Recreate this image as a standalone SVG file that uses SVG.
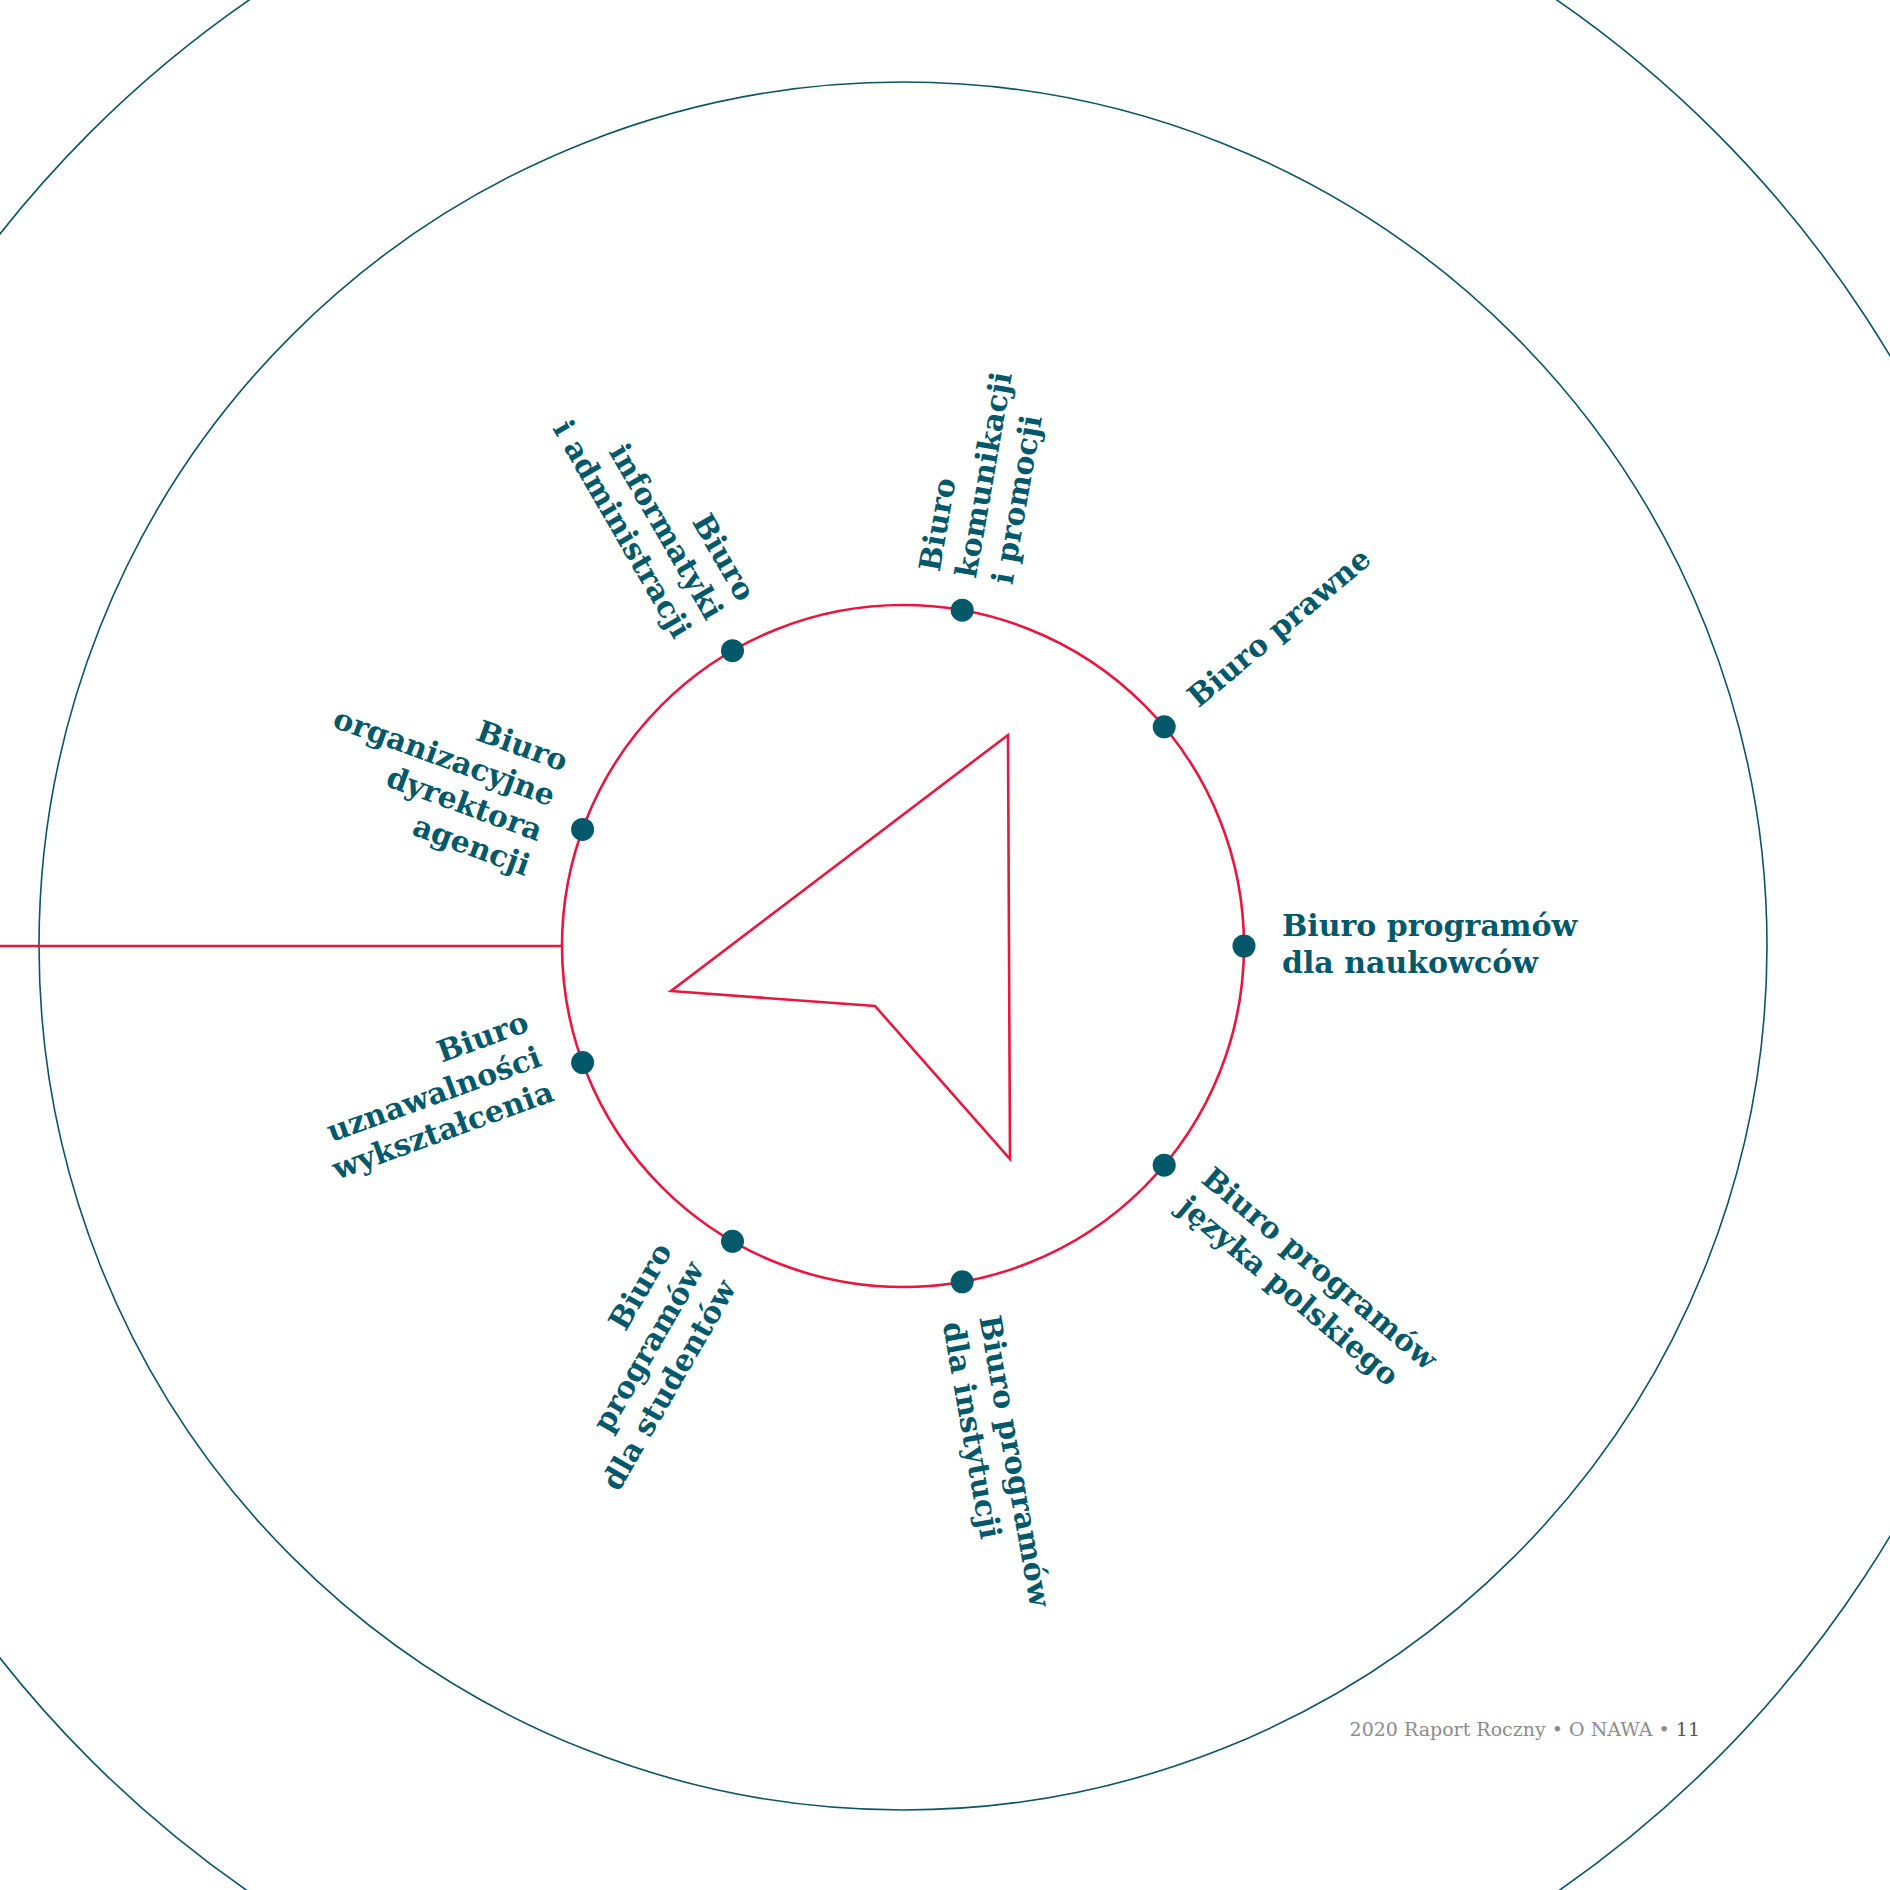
<svg xmlns="http://www.w3.org/2000/svg" width="1890" height="1890" viewBox="0 0 1890 1890">
<style>
.ring{fill:none;stroke:#0b5564;stroke-width:1.6}
.red{fill:none;stroke:#e8173f;stroke-width:2.6}
.dot{fill:#03586a}
.lbl{font-family:"DejaVu Serif","Liberation Serif",serif;font-weight:bold;font-size:30px;fill:#03586a}
.foot{font-family:"DejaVu Serif","Liberation Serif",serif;font-size:19px;fill:#8c8c8c}
</style>
<rect width="1890" height="1890" fill="#ffffff"/>
<g id="rings">
<circle class="ring" cx="903" cy="946" r="1150"/>
<circle class="ring" cx="903" cy="946" r="864"/>
</g>
<g id="connectors">
<line class="red" x1="0" y1="946" x2="562" y2="946"/>
<circle class="red" cx="903" cy="946" r="341"/>
<polygon class="red" points="1008,735 671,991 875,1006 1010,1159" stroke-linejoin="miter"/>
</g>
<g id="node-naukowcy">
<circle class="dot" cx="1244" cy="946" r="11.5"/>
<text class="lbl" transform="translate(903 946) rotate(0)"><tspan x="379" y="-10.5">Biuro programów</tspan><tspan x="379" y="26.5">dla naukowców</tspan></text>
</g>
<g id="node-jezyk">
<circle class="dot" cx="1164.2" cy="1165.2" r="11.5"/>
<text class="lbl" transform="translate(903 946) rotate(40)"><tspan x="379" y="-10.5">Biuro programów</tspan><tspan x="379" y="26.5">języka polskiego</tspan></text>
</g>
<g id="node-instytucje">
<circle class="dot" cx="962.2" cy="1281.8" r="11.5"/>
<text class="lbl" transform="translate(903 946) rotate(80)"><tspan x="379" y="-10.5">Biuro programów</tspan><tspan x="379" y="26.5">dla instytucji</tspan></text>
</g>
<g id="node-studenci">
<circle class="dot" cx="732.5" cy="1241.3" r="11.5"/>
<text class="lbl" text-anchor="end" transform="translate(903 946) rotate(-60)"><tspan x="-379" y="-47">Biuro</tspan><tspan x="-379" y="-10">programów</tspan><tspan x="-379" y="27">dla studentów</tspan></text>
</g>
<g id="node-uznawalnosc">
<circle class="dot" cx="582.6" cy="1062.6" r="11.5"/>
<text class="lbl" text-anchor="end" transform="translate(903 946) rotate(-20)"><tspan x="-379" y="-48">Biuro</tspan><tspan x="-379" y="-11">uznawalności</tspan><tspan x="-379" y="26">wykształcenia</tspan></text>
</g>
<g id="node-dyrektor">
<circle class="dot" cx="582.6" cy="829.4" r="11.5"/>
<text class="lbl" text-anchor="end" transform="translate(903 946) rotate(20)"><tspan x="-379" y="-47.5">Biuro</tspan><tspan x="-379" y="-10.5">organizacyjne</tspan><tspan x="-379" y="26.5">dyrektora</tspan><tspan x="-379" y="63.5">agencji</tspan></text>
</g>
<g id="node-informatyka">
<circle class="dot" cx="732.5" cy="650.7" r="11.5"/>
<text class="lbl" text-anchor="end" transform="translate(903 946) rotate(60)"><tspan x="-379" y="-29">Biuro</tspan><tspan x="-379" y="8">informatyki</tspan><tspan x="-379" y="45">i administracji</tspan></text>
</g>
<g id="node-komunikacja">
<circle class="dot" cx="962.2" cy="610.2" r="11.5"/>
<text class="lbl" transform="translate(903 946) rotate(-80)"><tspan x="374" y="-29">Biuro</tspan><tspan x="374" y="8">komunikacji</tspan><tspan x="374" y="45">i promocji</tspan></text>
</g>
<g id="node-prawne">
<circle class="dot" cx="1164.2" cy="726.8" r="11.5"/>
<text class="lbl" transform="translate(903 946) rotate(-40)"><tspan x="379" y="8">Biuro prawne</tspan></text>
</g>
<g id="footer">
<text class="foot" x="1700" y="1736" text-anchor="end">2020 Raport Roczny • O NAWA • <tspan fill="#555555">11</tspan></text>
</g>
</svg>
